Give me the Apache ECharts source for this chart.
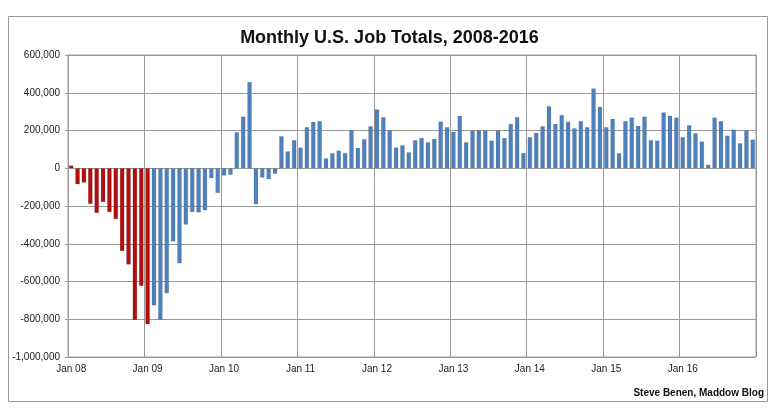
<!DOCTYPE html>
<html>
<head>
<meta charset="utf-8">
<script src="https://cdn.jsdelivr.net/npm/echarts@6/dist/echarts.min.js"></script>
<style>
html,body{margin:0;padding:0;background:#fff;}
#c{width:779px;height:417px;}
</style>
</head>
<body>
<div id="c"></div>
<script>
const titleText = 'Monthly U.S. Job Totals, 2008-2016';
const creditText = 'Steve Benen, Maddow Blog';
const years = ['08','09','10','11','12','13','14','15','16'];
const monthNames = ['Jan','Feb','Mar','Apr','May','Jun','Jul','Aug','Sep','Oct','Nov','Dec'];
const redMonths = 13; // Jan 08 – Jan 09 shown in red
const jobs2008 = [15000,-85000,-76000,-189000,-237000,-179000,-232000,-269000,-439000,-510000,-804000,-623000];
const jobs2009 = [-827000,-727000,-804000,-662000,-388000,-504000,-299000,-232000,-235000,-223000,-53000,-131000];
const jobs2010 = [-39000,-35000,191000,274000,457000,-191000,-50000,-58000,-30000,170000,90000,149000];
const jobs2011 = [110000,218000,246000,250000,53000,80000,94000,81000,202000,108000,154000,223000];
const jobs2012 = [312000,271000,202000,110000,122000,85000,149000,161000,138000,156000,248000,218000];
const jobs2013 = [193000,278000,138000,200000,200000,200000,147000,200000,161000,235000,271000,81000];
const jobs2014 = [165000,188000,223000,329000,235000,282000,247000,212000,250000,218000,423000,326000];
const jobs2015 = [218000,262000,80000,250000,269000,225000,274000,149000,147000,296000,278000,269000];
const jobs2016 = [165000,228000,186000,142000,19000,269000,250000,173000,205000,133000,200000,152000];
const yTicks = {min:-1000000, max:600000, step:200000};

const categories = [];
years.forEach(y => monthNames.forEach(m => categories.push(m + ' ' + y)));
const values = [].concat(jobs2008,jobs2009,jobs2010,jobs2011,jobs2012,jobs2013,jobs2014,jobs2015,jobs2016);

const chart = echarts.init(document.getElementById('c'));
const yearStart = (i) => i % 12 === 0;
chart.setOption({
  backgroundColor:'#fff',
  animation:false,
  title:{
    text:titleText, left:'center', top:24,
    textStyle:{fontFamily:'Liberation Sans, Arial', fontSize:18, fontWeight:'bold', color:'#111'}
  },
  grid:{left:68, right:23, top:55, bottom:60, show:true, borderColor:'#999', borderWidth:1},
  xAxis:{
    type:'category', data:categories, boundaryGap:true,
    axisLine:{lineStyle:{color:'#999'}},
    axisTick:{show:false, interval:(i)=>yearStart(i)},
    axisLabel:{interval:(i)=>yearStart(i), margin:7, color:'#222',
      fontFamily:'Liberation Sans, Arial', fontSize:10},
    splitLine:{show:true, interval:(i)=>yearStart(i), lineStyle:{color:'#9a9a9a', width:1}}
  },
  yAxis:{
    type:'value', min:yTicks.min, max:yTicks.max, interval:yTicks.step,
    axisLine:{show:true, lineStyle:{color:'#999'}},
    axisTick:{show:true, length:3, lineStyle:{color:'#999'}},
    axisLabel:{margin:8, color:'#222', fontFamily:'Liberation Sans, Arial', fontSize:10,
      formatter:(v)=>v.toLocaleString('en-US')},
    splitLine:{show:true, lineStyle:{color:'#9a9a9a', width:1}}
  },
  series:[{
    type:'bar', data:values, barCategoryGap:'30%',
    itemStyle:{
      color:(p)=> p.dataIndex < redMonths ? '#b01010' : '#4f81bd',
      borderColor:'rgba(0,0,0,0.18)', borderWidth:0.5
    }
  }],
  graphic:[
    {type:'rect', shape:{x:8.5, y:16.5, width:759, height:385}, style:{fill:'none', stroke:'#999', lineWidth:1}, z:-1},
    {type:'text', right:15, top:388, style:{text:creditText, fill:'#111',
      font:'bold 10px "Liberation Sans Narrow", "Liberation Sans", Arial'}}
  ]
});
</script>
</body>
</html>
